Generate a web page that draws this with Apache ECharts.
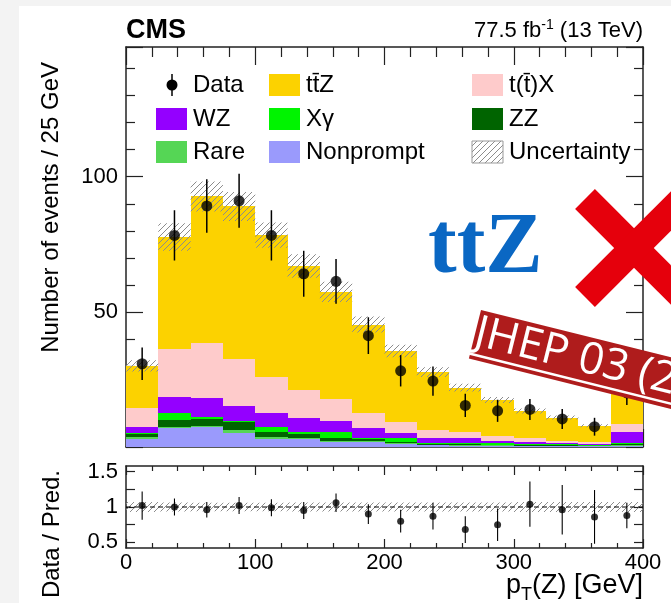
<!DOCTYPE html>
<html><head><meta charset="utf-8">
<script src="https://cdn.jsdelivr.net/npm/echarts@6/dist/echarts.min.js"></script>
<style>html,body{margin:0;padding:0;background:#fff}#c{width:671px;height:603px}</style>
</head><body><div id="c"></div>
<script>
// ---- data ----
const binEdges = [0,25,50,75,100,125,150,175,200,225,250,275,300,325,350,375,400];
const nonprompt = [3.1,6.9,7.3,5.3,3.1,2.8,2.0,1.7,1.0,0.6,0.5,0.5,0.4,0.4,0.3,0.4];
const rare      = [0.5,0.4,0.5,1.0,0.5,0.5,0.3,0.5,0.3,0.2,0.2,0.2,0.1,0.1,0.1,0.3];
const zz        = [1.2,2.7,2.4,3.0,2.1,1.4,0.9,0.6,0.7,0.3,0.3,0.2,0.1,0.2,0.1,0.5];
const xgamma    = [0.2,2.7,0.8,0.4,1.8,0.7,2.2,0.4,1.2,0.3,0.4,0.4,0.5,0.3,0.2,0.3];
const wz        = [2.3,5.9,7.0,5.5,5.0,5.2,4.3,3.7,1.9,1.8,2.1,1.0,0.8,0.5,0.3,3.9];
const ttx       = [7.1,17.7,20.3,17.4,13.5,10.5,8.1,5.8,4.2,3.1,2.2,1.8,1.3,0.7,0.9,3.1];
const ttz       = [15.6,41.4,54.4,56.4,52.4,45.9,39.6,32.6,26.2,21.4,16.3,13.3,10.1,8.7,6.0,14.5];
const relUnc    = [0.07,0.065,0.06,0.06,0.06,0.065,0.065,0.065,0.065,0.065,0.065,0.065,0.07,0.07,0.07,0.07];
const dataVals  = [30.8,78.3,89.2,91.1,78.3,64.1,61.3,41.2,28.2,24.4,15.4,13.4,13.9,10.4,7.5,20.0];
const dataErr   = [6.0,9.3,9.9,10.0,9.3,8.5,8.3,6.8,5.8,5.4,4.3,4.1,3.9,3.7,3.3,4.5];
const ratioVals = [1.02,1.00,0.96,1.02,0.99,0.95,1.06,0.90,0.80,0.87,0.68,0.75,1.04,0.96,0.86,0.88];
const ratioErr  = [0.20,0.12,0.11,0.12,0.12,0.12,0.13,0.14,0.16,0.19,0.19,0.23,0.32,0.35,0.38,0.18];
const yTickLabels = [50,100];
const ratioTickValues = [0.5,0.75,1,1.25,1.5];
const ratioTickLabels = [0.5,1,1.5];

const comps = [
  {name:'Nonprompt', vals:nonprompt, color:'#9a9afc'},
  {name:'Rare',      vals:rare,      color:'#55d655'},
  {name:'ZZ',        vals:zz,        color:'#006400'},
  {name:'X\u03b3',   vals:xgamma,    color:'#00f400'},
  {name:'WZ',        vals:wz,        color:'#9400ff'},
  {name:'t(t\u0304)X', vals:ttx,     color:'#fecbcb'},
  {name:'tt\u0304Z', vals:ttz,       color:'#fcd200'}
];

const FONT = 'Liberation Sans';
const AX = '#222';

function hatchCanvas(){
  const c = document.createElement('canvas'); c.width = 6; c.height = 6;
  const g = c.getContext('2d'); g.strokeStyle = '#8c8c8c'; g.lineWidth = 1;
  g.beginPath(); g.moveTo(-1,7); g.lineTo(7,-1); g.stroke();
  g.beginPath(); g.moveTo(-1,1); g.lineTo(1,-1); g.stroke();
  g.beginPath(); g.moveTo(5,7); g.lineTo(7,5); g.stroke();
  return c;
}
const hatch = {image: hatchCanvas(), repeat: 'repeat'};

const nb = binEdges.length - 1;
const centers = [];
for (let i = 0; i < nb; i++) centers.push((binEdges[i] + binEdges[i+1]) / 2);

// cumulative stack
const cum = new Array(nb).fill(0);
const series = [];
function rectRender(fill){
  return function(params, api){
    const p1 = api.coord([api.value(0), api.value(3)]);
    const p2 = api.coord([api.value(1), api.value(2)]);
    const x1 = Math.round(p1[0]), x2 = Math.round(p2[0]);
    const y1 = Math.round(p1[1]), y2 = Math.round(p2[1]);
    return {type:'rect', shape:{x:x1, y:y1, width:x2-x1, height:y2-y1}, style:{fill:fill}};
  };
}
comps.forEach(c => {
  const d = [];
  for (let i = 0; i < nb; i++) {
    const b = cum[i]; const t = b + c.vals[i];
    d.push([binEdges[i], binEdges[i+1], b, t]);
    cum[i] = t;
  }
  series.push({type:'custom', name:c.name, xAxisIndex:0, yAxisIndex:0, silent:true,
    encode:{x:[0,1], y:[2,3]}, data:d, renderItem:rectRender(c.color), z:2});
});
// uncertainty band on total
const uncData = [];
for (let i = 0; i < nb; i++) uncData.push([binEdges[i], binEdges[i+1], cum[i]*(1-relUnc[i]), cum[i]*(1+relUnc[i])]);
series.push({type:'custom', name:'Uncertainty', xAxisIndex:0, yAxisIndex:0, silent:true,
  encode:{x:[0,1], y:[2,3]}, data:uncData,
  renderItem:function(params, api){
    const p1 = api.coord([api.value(0), api.value(3)]);
    const p2 = api.coord([api.value(1), api.value(2)]);
    return {type:'rect', shape:{x:p1[0], y:p1[1], width:p2[0]-p1[0], height:p2[1]-p1[1]}, style:{fill:hatch}};
  }, z:3});

function errRender(w){
  return function(params, api){
    const a = api.coord([api.value(0), api.value(1)]);
    const b = api.coord([api.value(0), api.value(2)]);
    return {type:'line', shape:{x1:a[0], y1:a[1], x2:b[0], y2:b[1]}, style:{stroke:'#000', lineWidth:w}};
  };
}
const dErr = centers.map((c,i) => [c, dataVals[i]-dataErr[i], dataVals[i]+dataErr[i]]);
series.push({type:'custom', name:'DataErr', xAxisIndex:0, yAxisIndex:0, silent:true,
  encode:{x:0, y:[1,2]}, data:dErr, renderItem:errRender(1.5), z:4});
series.push({type:'scatter', name:'Data', xAxisIndex:0, yAxisIndex:0, silent:true,
  data:centers.map((c,i)=>[c, dataVals[i]]), symbol:'circle', symbolSize:11,
  itemStyle:{color:'#000'}, z:5});

// ratio panel
const rBand = [];
for (let i = 0; i < nb; i++) rBand.push([binEdges[i], binEdges[i+1], 1-relUnc[i], 1+relUnc[i]]);
series.push({type:'custom', name:'RatioUnc', xAxisIndex:2, yAxisIndex:2, silent:true,
  encode:{x:[0,1], y:[2,3]}, data:rBand,
  renderItem:function(params, api){
    const p1 = api.coord([api.value(0), api.value(3)]);
    const p2 = api.coord([api.value(1), api.value(2)]);
    return {type:'rect', shape:{x:p1[0], y:p1[1], width:p2[0]-p1[0], height:p2[1]-p1[1]}, style:{fill:hatch}};
  }, z:2});
series.push({type:'line', name:'One', xAxisIndex:2, yAxisIndex:2, silent:true,
  data:[[binEdges[0],1],[binEdges[nb],1]], showSymbol:false, symbol:'none',
  lineStyle:{color:'#000', width:1.2, type:[5,3]}, z:3});
series.push({type:'custom', name:'RatioErr', xAxisIndex:2, yAxisIndex:2, silent:true,
  encode:{x:0, y:[1,2]}, data:centers.map((c,i)=>[c, ratioVals[i]-ratioErr[i], ratioVals[i]+ratioErr[i]]),
  renderItem:errRender(1.1), z:4});
series.push({type:'scatter', name:'Ratio', xAxisIndex:2, yAxisIndex:2, silent:true,
  data:centers.map((c,i)=>[c, ratioVals[i]]), symbol:'circle', symbolSize:7,
  itemStyle:{color:'#000'}, z:5});

// axes
function xAx(grid, pos, showLabel, majLen, minLen){
  return {type:'value', gridIndex:grid, position:pos, min:binEdges[0], max:binEdges[nb], interval:100,
    axisLine:{show:true, onZero:false, lineStyle:{color:AX, width:1.5}},
    axisTick:{show:true, inside:true, length:majLen, lineStyle:{color:AX, width:1.2}},
    minorTick:{show:true, splitNumber:5, length:minLen, lineStyle:{color:AX, width:1.2}},
    axisLabel:{show:showLabel, fontSize:22, fontFamily:FONT, color:'#000', margin:4},
    splitLine:{show:false}, minorSplitLine:{show:false}};
}
function yMain(pos, showLabel){
  return {type:'value', gridIndex:0, position:pos, min:0, max:148, interval:50,
    axisLine:{show:true, onZero:false, lineStyle:{color:AX, width:1.5}},
    axisTick:{show:true, inside:true, length:17, lineStyle:{color:AX, width:1.2}},
    minorTick:{show:true, splitNumber:5, length:9, lineStyle:{color:AX, width:1.2}},
    axisLabel:{show:showLabel, fontSize:22, fontFamily:FONT, color:'#000', margin:8,
      formatter: v => (yTickLabels.indexOf(v) >= 0 ? String(v) : '')},
    splitLine:{show:false}, minorSplitLine:{show:false}};
}
function yRatio(pos, showLabel){
  return {type:'value', gridIndex:1, position:pos, min:0.42, max:1.58,
    axisLine:{show:true, onZero:false, lineStyle:{color:AX, width:1.5}},
    axisTick:{show:true, inside:true, length:9, customValues:ratioTickValues, lineStyle:{color:AX, width:1.2}},
    axisLabel:{show:showLabel, fontSize:22, fontFamily:FONT, color:'#000', margin:8, customValues:ratioTickLabels,
      formatter: v => String(v)},
    splitLine:{show:false}};
}

const legendRows = [85, 119, 152];
const legendCols = [156, 269, 472];
const legendItems = [
  {label:'Data', kind:'data', c:0, r:0},
  {label:'tt\u0304Z', color:comps[6].color, c:1, r:0},
  {label:'t(t\u0304)X', color:comps[5].color, c:2, r:0},
  {label:'WZ', color:comps[4].color, c:0, r:1},
  {label:'X\u03b3', color:comps[3].color, c:1, r:1},
  {label:'ZZ', color:comps[2].color, c:2, r:1},
  {label:'Rare', color:comps[1].color, c:0, r:2},
  {label:'Nonprompt', color:comps[0].color, c:1, r:2},
  {label:'Uncertainty', kind:'unc', c:2, r:2}
];
const graphics = [];
graphics.push({type:'rect', shape:{x:0, y:0, width:19, height:603}, style:{fill:'#f3f3f3'}, z:0, silent:true});
graphics.push({type:'rect', shape:{x:0, y:0, width:671, height:6}, style:{fill:'#f3f3f3'}, z:0, silent:true});
legendItems.forEach(it => {
  const x = legendCols[it.c], y = legendRows[it.r];
  if (it.kind === 'data') {
    graphics.push({type:'line', shape:{x1:x+16, y1:y-11, x2:x+16, y2:y+11}, style:{stroke:'#000', lineWidth:1.5}, z:10});
    graphics.push({type:'circle', shape:{cx:x+16, cy:y, r:5.5}, style:{fill:'#000'}, z:10});
  } else if (it.kind === 'unc') {
    graphics.push({type:'rect', shape:{x:x, y:y-11, width:31, height:22}, style:{fill:hatch, stroke:'#999', lineWidth:1}, z:10});
  } else {
    graphics.push({type:'rect', shape:{x:x, y:y-11, width:31, height:22}, style:{fill:it.color}, z:10});
  }
  graphics.push({type:'text', x:x+37, y:y, style:{text:it.label, font:'24px "Liberation Sans"', fill:'#000', textVerticalAlign:'middle'}, z:10});
});
// header texts
graphics.push({type:'text', x:126, y:31, style:{text:'CMS', font:'bold 27px "Liberation Sans"', fill:'#000', textVerticalAlign:'middle'}, z:10});
graphics.push({type:'text', x:643, y:31, style:{text:'77.5 fb{sup|-1} (13 TeV)', fill:'#000', textAlign:'right', textVerticalAlign:'middle',
  fontSize:22, fontFamily:FONT, rich:{sup:{fontSize:14, fontFamily:FONT, padding:[0,0,12,0]}}}, z:10});
// axis titles
graphics.push({type:'text', x:51, y:62, rotation:Math.PI/2, style:{text:'Number of events / 25 GeV', font:'24px "Liberation Sans"', fill:'#000', textAlign:'right', textVerticalAlign:'middle'}, z:10});
graphics.push({type:'text', x:52, y:470, rotation:Math.PI/2, style:{text:'Data / Pred.', font:'24px "Liberation Sans"', fill:'#000', textAlign:'right', textVerticalAlign:'middle'}, z:10});
graphics.push({type:'text', x:643, y:586, style:{text:'{a|p}{s|T}{a|(Z) [GeV]}', fill:'#000', textAlign:'right', textVerticalAlign:'middle',
  rich:{a:{fontSize:27, fontFamily:FONT}, s:{fontSize:18, fontFamily:FONT, padding:[18,0,0,0]}}}, z:10});
// overlay stamps
graphics.push({type:'text', x:428, y:250, style:{text:'ttZ', font:'bold 86px "Liberation Serif"', fill:'#0a67c3', textVerticalAlign:'middle'}, z:50});
graphics.push({type:'line', shape:{x1:585, y1:199, x2:683, y2:297}, style:{stroke:'#e5000c', lineWidth:28}, z:50});
graphics.push({type:'line', shape:{x1:585, y1:297, x2:683, y2:199}, style:{stroke:'#e5000c', lineWidth:28}, z:50});
graphics.push({type:'group', x:481, y:310, rotation:-14*Math.PI/180, z:60, children:[
  {type:'rect', shape:{x:0, y:0, width:360, height:50}, style:{fill:'#af1c1c'}, z:60},
  {type:'text', x:0, y:23, style:{text:'JHEP 03 (2020) 056', font:'44px "Open Sans"', fill:'#fff', textVerticalAlign:'middle'}, z:61},
  {type:'line', shape:{x1:-4, y1:45, x2:360, y2:45}, style:{stroke:'#fff', lineWidth:2.5}, z:61}
]});

const option = {
  animation:false,
  backgroundColor:'#fff',
  textStyle:{fontFamily:FONT},
  grid:[
    {left:126, right:28, top:47, height:400, containLabel:false},
    {left:126, right:28, top:466, height:82, containLabel:false}
  ],
  xAxis:[xAx(0,'bottom',false,18,10), xAx(0,'top',false,18,10), xAx(1,'bottom',true,9,5), xAx(1,'top',false,9,5)],
  yAxis:[yMain('left',true), yMain('right',false), yRatio('left',true), yRatio('right',false)],
  series:series,
  graphic:graphics
};
const chart = echarts.init(document.getElementById('c'), null, {renderer:'canvas', width:671, height:603});
chart.setOption(option);
</script></body></html>
